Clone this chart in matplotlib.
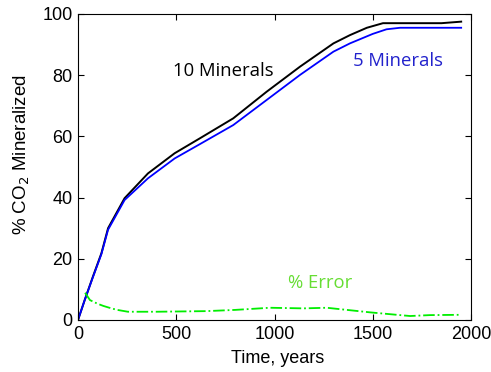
import matplotlib
matplotlib.use("Agg")
import matplotlib.pyplot as plt

t10 = [0, 34, 76, 119, 153, 237, 356, 492, 621, 790, 960, 1130, 1300, 1384, 1470, 1552, 1700, 1850, 1950]
y10 = [0, 6.5, 14.2, 21.8, 30, 39.8, 47.9, 54.5, 59.4, 65.9, 74.6, 82.8, 90.4, 93.1, 95.5, 97, 97, 97, 97.5]
t5 = [0, 34, 76, 119, 153, 237, 356, 492, 621, 790, 960, 1130, 1300, 1384, 1500, 1570, 1639, 1800, 1950]
y5 = [0, 6.5, 14, 21.5, 29.5, 39.2, 46.3, 52.8, 57.5, 63.7, 71.9, 80.1, 87.7, 90.4, 93.5, 95, 95.5, 95.5, 95.5]
terr = [36, 61, 100, 129, 170, 200, 254, 400, 653, 800, 977, 1147, 1266, 1486, 1690, 1791, 1950]
yerr = [8.9, 6.5, 5.3, 4.6, 3.8, 3.3, 2.7, 2.7, 2.9, 3.3, 4.0, 3.8, 4.0, 2.5, 1.3, 1.6, 1.7]

fig = plt.figure(figsize=(4.91, 3.72), dpi=100)
ax = fig.add_axes([78/491, 1 - 320/372, 393/491, 306/372])
ax.plot(t10, y10, color='black', lw=1.4)
ax.plot(t5, y5, color='#0000ff', lw=1.3)
ax.plot(terr, yerr, color='#00ee00', lw=1.3, linestyle='-.')
ax.set_xlim(0, 2000)
ax.set_ylim(0, 100)
ax.set_xticks([0, 500, 1000, 1500, 2000])
ax.set_yticks([0, 20, 40, 60, 80, 100])
ax.tick_params(direction='in', top=True, right=True, labelsize=13, length=4, pad=4)
for lab in ax.get_xticklabels() + ax.get_yticklabels():
    lab.set_family('Liberation Sans')
ax.set_xlabel('Time, years', fontsize=13, family='Liberation Sans')
ax.xaxis.set_label_coords(0.509, -0.098)
ax.set_ylabel('% CO$_2$ Mineralized', fontsize=13.5, family='Liberation Sans')
ax.yaxis.label.set_va('center')
ax.yaxis.set_label_coords(-0.142, 0.54)
ax.text(738, 81.4, '10 Minerals', fontsize=13.3, family='Open Sans', ha='center', va='center', color='black')
ax.text(1628, 84.6, '5 Minerals', fontsize=13.3, family='Open Sans', ha='center', va='center', color='#2222cc')
ax.text(1232, 12.1, '% Error', fontsize=13.3, family='Open Sans', ha='center', va='center', color='#66dd33')
fig.savefig('out.png', dpi=100)
